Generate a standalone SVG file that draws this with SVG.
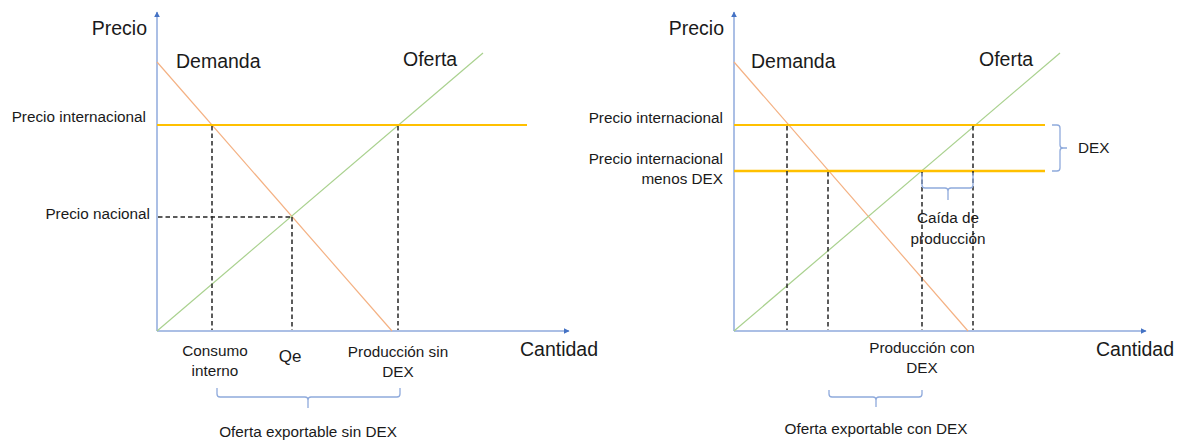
<svg xmlns="http://www.w3.org/2000/svg" width="1179" height="441" viewBox="0 0 1179 441">
<style>
.axis{stroke:#8faadc;stroke-width:1.5;fill:none}
.dem{stroke:#f4b183;stroke-width:1.2;fill:none}
.sup{stroke:#a9d18e;stroke-width:1.2;fill:none}
.pi{stroke:#ffc000;stroke-width:2;fill:none}
.dash{stroke:#262626;stroke-width:1.5;stroke-dasharray:4.5 3;fill:none}
.brace{stroke:#8faadc;stroke-width:1.3;fill:none}
text{font-family:"Liberation Sans",Arial,sans-serif;fill:#1a1a1a}
.big{font-size:19.5px}
.sm{font-size:15.3px}
</style>
<defs>
<marker id="arr" viewBox="0 0 10 10" refX="9" refY="5" markerWidth="6" markerHeight="6" orient="auto" markerUnits="userSpaceOnUse">
<path d="M0,0 L10,5 L0,10 z" fill="#4472c4"/>
</marker>
</defs>

<g id="chart-left">
<g id="axes-left">
<line class="axis" x1="157" y1="331" x2="157" y2="12" marker-end="url(#arr)"/>
<line class="axis" x1="157" y1="331" x2="569" y2="331" marker-end="url(#arr)"/>
</g>
<g id="curves-left">
<line class="dem" x1="157" y1="62" x2="392" y2="331"/>
<line class="sup" x1="157" y1="331" x2="483" y2="53"/>
<line class="pi" x1="157" y1="125" x2="527" y2="125"/>
</g>
<g id="connectors-left">
<line class="dash" x1="212" y1="126" x2="212" y2="330"/>
<line class="dash" x1="158" y1="217" x2="292" y2="217"/>
<line class="dash" x1="292" y1="217" x2="292" y2="330"/>
<line class="dash" x1="398" y1="126" x2="398" y2="330"/>
<path class="brace" d="M217,388 L217,394 Q217,397 220,397 L305,397 Q308,397 308,400 L308,408 M308,400 Q308,397 311,397 L397,397 Q400,397 400,394 L400,388"/>
</g>
<g id="labels-left">
<text class="big" x="147" y="35" text-anchor="end">Precio</text>
<text class="big" x="176" y="68">Demanda</text>
<text class="big" x="403" y="66">Oferta</text>
<text class="big" x="520" y="356">Cantidad</text>
<text class="sm" x="146" y="122" text-anchor="end">Precio internacional</text>
<text class="sm" x="150" y="219" text-anchor="end">Precio nacional</text>
<text class="sm" x="215" y="356" text-anchor="middle">Consumo</text>
<text class="sm" x="215" y="376" text-anchor="middle">interno</text>
<text x="290" y="362" text-anchor="middle" style="font-size:17px">Qe</text>
<text class="sm" x="398" y="357" text-anchor="middle">Producción sin</text>
<text class="sm" x="398" y="377" text-anchor="middle">DEX</text>
<text class="sm" x="308" y="437" text-anchor="middle">Oferta exportable sin DEX</text>
</g>
</g>

<g id="chart-right">
<g id="axes-right">
<line class="axis" x1="734" y1="331" x2="734" y2="12" marker-end="url(#arr)"/>
<line class="axis" x1="734" y1="331" x2="1146" y2="331" marker-end="url(#arr)"/>
</g>
<g id="curves-right">
<line class="dem" x1="734" y1="62" x2="968" y2="331"/>
<line class="sup" x1="734" y1="331" x2="1060" y2="53"/>
<line class="pi" x1="734" y1="125" x2="1045" y2="125"/>
<line class="pi" x1="734" y1="171" x2="1045" y2="171" style="stroke-width:2.4"/>
</g>
<g id="connectors-right">
<line class="dash" x1="787" y1="126" x2="787" y2="330"/>
<line class="dash" x1="828" y1="172" x2="828" y2="330"/>
<line class="dash" x1="922" y1="172" x2="922" y2="330"/>
<line class="dash" x1="973" y1="126" x2="973" y2="330"/>
<path class="brace" d="M1052,125 L1057,125 Q1060,125 1060,128 L1060,145 Q1060,148 1063,148 L1067,148 M1063,148 Q1060,148 1060,151 L1060,168 Q1060,171 1057,171 L1052,171"/>
<path class="brace" d="M922,173 L922,185 Q922,188 925,188 L945,188 Q948,188 948,191 L948,200 M948,191 Q948,188 951,188 L970,188 Q973,188 973,185 L973,173"/>
<path class="brace" d="M829,390 L829,394 Q829,397 832,397 L873,397 Q876,397 876,400 L876,407 M876,400 Q876,397 879,397 L919,397 Q922,397 922,394 L922,390"/>
</g>
<g id="labels-right">
<text class="big" x="724" y="35" text-anchor="end">Precio</text>
<text class="big" x="751" y="68">Demanda</text>
<text class="big" x="979" y="66">Oferta</text>
<text class="big" x="1096" y="356">Cantidad</text>
<text class="sm" x="723" y="123" text-anchor="end">Precio internacional</text>
<text class="sm" x="723" y="164" text-anchor="end">Precio internacional</text>
<text class="sm" x="723" y="184" text-anchor="end">menos DEX</text>
<text class="sm" x="1078" y="153">DEX</text>
<text class="sm" x="948" y="223" text-anchor="middle">Caída de</text>
<text class="sm" x="948" y="244" text-anchor="middle">producción</text>
<text class="sm" x="922" y="353" text-anchor="middle">Producción con</text>
<text class="sm" x="922" y="373" text-anchor="middle">DEX</text>
<text class="sm" x="876" y="434" text-anchor="middle">Oferta exportable con DEX</text>
</g>
</g>
</svg>
